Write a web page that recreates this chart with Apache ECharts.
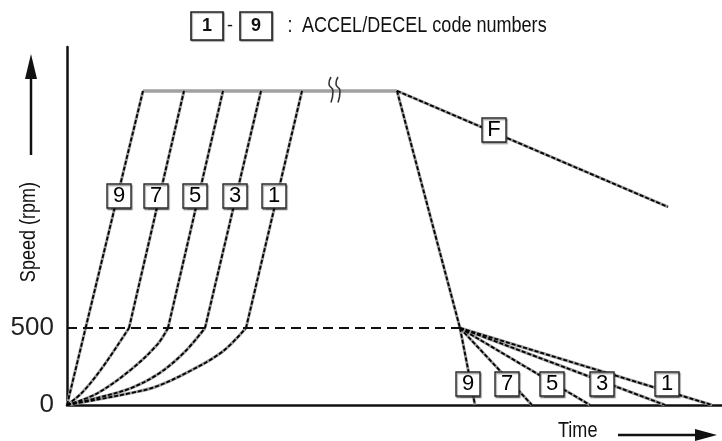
<!DOCTYPE html>
<html>
<head>
<meta charset="utf-8">
<script src="https://cdn.jsdelivr.net/npm/echarts@6/dist/echarts.min.js"></script>
<style>html,body{margin:0;padding:0;background:#fff;}#c{width:722px;height:441px;}</style>
</head>
<body>
<div id="c"></div>
<script>
// ---- data (time in arbitrary units, speed in rpm) ----
const yTickLabels = [0, 500];
const accelCodes = ['9', '7', '5', '3', '1'];
const accelLower = [
  [[0, 0], [18.6, 500]],
  [[0, 0], [15, 80], [35, 240], [62, 500]],
  [[0, 0], [30, 75], [64, 230], [90, 390], [101, 500]],
  [[0, 0], [30, 45], [64, 110], [92, 205], [117, 340], [138, 500]],
  [[0, 0], [30, 35], [64, 78], [88, 117], [121, 214], [155, 344], [179, 500]]
];
const accelUpper = [
  [[18.6, 500], [76, 2040]],
  [[62, 500], [117, 2040]],
  [[101, 500], [156, 2040]],
  [[138, 500], [194, 2040]],
  [[179, 500], [235, 2040]]
];
const accelLabelPos = [[52, 1357], [89, 1357], [128, 1357], [168, 1357], [207, 1357]];
const topRun = [[76, 2040], [330, 2040]];
const mainDecel = [[330, 2040], [393, 500]];
const decelCodes = ['9', '7', '5', '3', '1'];
const decelEnds = [[408, 0], [465, 0], [523, 0], [598, 0], [645, 0]];
const decelLabelPos = [[401, 136], [440, 136], [485, 136], [535, 136], [600, 136]];
const fLine = [[330, 2040], [601, 1286]];
const fLabelPos = [[427, 1786]];
const dashed500 = [[0, 500], [393, 500]];
const breakMarkA = [[264, 2130], [262, 2085], [266, 2040], [264, 1965]];
const breakMarkB = [[271, 2130], [269, 2085], [273, 2040], [271, 1965]];

const SANS = '"Liberation Sans", Arial, sans-serif';
const NARROW_SCALE = 0.82;

const series = [];
function speedLine(data, smooth) {
  series.push({ type: 'line', data: data, symbol: 'none', silent: true, smooth: smooth ? 0.35 : false,
    lineStyle: { color: '#9a9a9a', width: 3 }, z: 2 });
  series.push({ type: 'line', data: data, symbol: 'none', silent: true, smooth: smooth ? 0.35 : false,
    lineStyle: { color: '#000', width: 1.8, type: [4, 2] }, z: 3 });
}
accelLower.forEach(function (d) { speedLine(d, d.length > 2); });
accelUpper.forEach(function (d) { speedLine(d, false); });
speedLine(mainDecel, false);
decelEnds.forEach(function (e) { speedLine([mainDecel[1], e], false); });
speedLine(fLine, false);
series.push({ type: 'line', data: topRun, symbol: 'none', silent: true,
  lineStyle: { color: '#a0a0a0', width: 3.5 }, z: 2 });
series.push({ type: 'line', data: dashed500, symbol: 'none', silent: true,
  lineStyle: { color: '#111', width: 2, type: [10, 6] }, z: 4 });
[breakMarkA, breakMarkB].forEach(function (d) {
  series.push({ type: 'line', data: d, symbol: 'none', silent: true, smooth: 0.6,
    lineStyle: { color: '#333', width: 1.6 }, z: 5 });
});

function boxes(pos, codes) {
  return {
    type: 'scatter', silent: true, z: 10,
    data: pos.map(function (p, i) { return { value: p, name: codes[i] }; }),
    symbol: 'rect', symbolSize: [24, 24],
    itemStyle: { color: '#fff', opacity: 1, borderColor: '#2a2a2a', borderWidth: 1.4,
      shadowColor: 'rgba(0,0,0,0.4)', shadowBlur: 1, shadowOffsetX: 1, shadowOffsetY: 1.5 },
    label: { show: true, position: 'inside', formatter: '{b}', color: '#000',
      fontFamily: SANS, fontSize: 22, fontWeight: 'normal' }
  };
}
series.push(boxes(accelLabelPos, accelCodes));
series.push(boxes(decelLabelPos, decelCodes));
series.push(boxes(fLabelPos, ['F']));

function narrowText(x, y, text, align, rotation) {
  return { type: 'text', x: x, y: y, rotation: rotation || 0, scaleX: NARROW_SCALE,
    style: { text: text, fontSize: 22, fontFamily: SANS, fill: '#111', align: align, verticalAlign: 'middle' } };
}

const chart = echarts.init(document.getElementById('c'));
chart.setOption({
  animation: false,
  backgroundColor: '#fff',
  grid: { left: 67, right: 0, top: 47, bottom: 36 },
  xAxis: { type: 'value', min: 0, max: 655,
    axisLine: { show: true, lineStyle: { color: '#111', width: 2.5 } },
    axisTick: { show: false }, axisLabel: { show: false }, splitLine: { show: false } },
  yAxis: { type: 'value', min: 0, max: 2325, interval: 500,
    axisLine: { show: true, lineStyle: { color: '#111', width: 2.5 } },
    axisTick: { show: false }, splitLine: { show: false },
    axisLabel: { margin: 13, fontSize: 26, fontFamily: SANS, color: '#222',
      showMaxLabel: false,
      formatter: function (v) { return yTickLabels.indexOf(v) >= 0 ? String(v) : ''; } } },
  series: series,
  graphic: [
    { type: 'rect', shape: { x: 191, y: 12, width: 32, height: 28 },
      style: { fill: '#fff', stroke: '#222', lineWidth: 1.6, shadowColor: 'rgba(0,0,0,0.35)', shadowBlur: 1, shadowOffsetX: 1, shadowOffsetY: 1 } },
    { type: 'text', x: 207, y: 26, style: { text: '1', fontSize: 18, fontWeight: 'bold', fontFamily: SANS, fill: '#111', align: 'center', verticalAlign: 'middle' } },
    { type: 'text', x: 230, y: 26, style: { text: '-', fontSize: 18, fontFamily: SANS, fill: '#111', align: 'center', verticalAlign: 'middle' } },
    { type: 'rect', shape: { x: 240, y: 12, width: 32, height: 28 },
      style: { fill: '#fff', stroke: '#222', lineWidth: 1.6, shadowColor: 'rgba(0,0,0,0.35)', shadowBlur: 1, shadowOffsetX: 1, shadowOffsetY: 1 } },
    { type: 'text', x: 256, y: 26, style: { text: '9', fontSize: 18, fontWeight: 'bold', fontFamily: SANS, fill: '#111', align: 'center', verticalAlign: 'middle' } },
    narrowText(290, 26, ':', 'center'),
    narrowText(302, 26, 'ACCEL/DECEL code numbers', 'left'),
    narrowText(29, 232, 'Speed (rpm)', 'center', Math.PI / 2),
    { type: 'line', shape: { x1: 31, y1: 155, x2: 31, y2: 76 }, style: { stroke: '#111', lineWidth: 2.5 } },
    { type: 'polygon', shape: { points: [[31, 54], [25, 79], [37, 79]] }, style: { fill: '#111' } },
    narrowText(558, 431, 'Time', 'left'),
    { type: 'line', shape: { x1: 618, y1: 435, x2: 700, y2: 435 }, style: { stroke: '#111', lineWidth: 2.5 } },
    { type: 'polygon', shape: { points: [[717, 435], [695, 429], [695, 441]] }, style: { fill: '#111' } }
  ]
});
</script>
</body>
</html>
